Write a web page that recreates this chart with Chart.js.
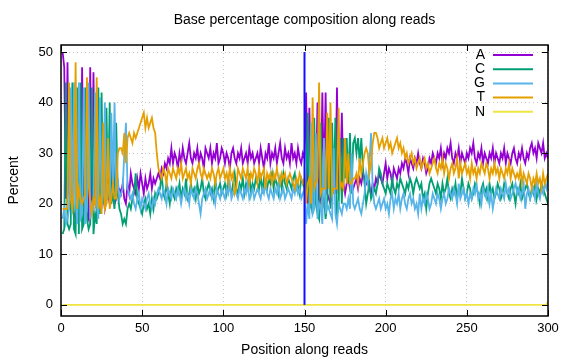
<!DOCTYPE html>
<html>
<head>
<meta charset="utf-8">
<script src="https://cdn.jsdelivr.net/npm/chart.js@4.4.1/dist/chart.umd.min.js"></script>
<style>
  html, body { margin: 0; padding: 0; background: #fff; }
</style>
</head>
<body>
<canvas id="myChart" width="576" height="360"></canvas>
<script>
// percent of each base at read positions 1..300
const baseA = [
  50, 47, 21, 48, 22, 20, 19, 18, 17, 22,
  19, 18, 47, 20, 19, 18, 17, 47, 19, 46,
  20, 19, 21, 20, 21, 22, 19, 21, 22, 20,
  21, 30, 20, 21, 23, 23, 22, 24, 21, 20,
  24, 22, 26, 24, 23, 22, 25, 23, 26, 24,
  22, 25, 23, 24, 26, 23, 25, 24, 25, 26,
  25, 27, 26, 28, 27, 29, 28, 31, 28, 30,
  29, 27, 30, 28, 31, 29, 28, 30, 32, 29,
  28, 30, 29, 31, 28, 30, 29, 27, 31, 30,
  29, 31, 28, 30, 29, 32, 28, 29, 31, 30,
  28, 30, 29, 27, 30, 31, 29, 28, 30, 29,
  31, 28, 29, 30, 28, 31, 29, 30, 28, 29,
  30, 28, 31, 29, 27, 30, 29, 32, 28, 30,
  29, 31, 28, 30, 32, 29, 28, 31, 29, 30,
  28, 32, 29, 30, 28, 31, 29, 28, 30, 29,
  42, 20, 39, 24, 20, 21, 22, 40, 19, 22,
  42, 23, 42, 22, 21, 20, 23, 24, 22, 43,
  22, 24, 38, 24, 22, 24, 25, 23, 24, 23,
  24, 25, 23, 25, 24, 26, 25, 24, 25, 23,
  22, 24, 23, 25, 24, 26, 25, 24, 26, 28,
  25, 27, 26, 24, 27, 26, 25, 27, 26, 28,
  27, 29, 28, 26, 29, 28, 27, 29, 28, 30,
  28, 27, 29, 28, 26, 27, 29, 28, 30, 29,
  28, 30, 29, 31, 28, 30, 29, 31, 30, 32,
  29, 28, 30, 29, 31, 28, 30, 29, 28, 30,
  29, 31, 30, 32, 29, 28, 30, 29, 31, 28,
  30, 29, 28, 30, 29, 31, 28, 30, 29, 28,
  30, 29, 31, 28, 30, 29, 28, 30, 31, 29,
  28, 30, 29, 31, 29, 28, 30, 29, 31, 32,
  30, 31, 29, 32, 31, 30, 32, 29, 30, 29
];

const baseC = [
  14, 15, 44, 16, 15, 16, 44, 15, 14, 43,
  14, 44, 15, 16, 43, 17, 15, 16, 43, 14,
  18, 16, 43, 18, 42, 20, 22, 39, 21, 40,
  20, 22, 19, 36, 22, 19, 18, 16, 17, 16,
  19, 20, 19, 21, 22, 26, 21, 20, 19, 18,
  20, 21, 19, 20, 18, 21, 19, 22, 21, 22,
  23, 26, 22, 21, 24, 22, 20, 23, 22, 21,
  23, 22, 24, 21, 23, 22, 25, 21, 22, 24,
  22, 23, 21, 24, 22, 23, 25, 22, 21, 23,
  24, 22, 23, 21, 25, 22, 23, 24, 22, 23,
  24, 22, 25, 23, 22, 24, 26, 23, 22, 24,
  23, 25, 22, 24, 23, 26, 22, 24, 23, 25,
  24, 23, 26, 22, 25, 24, 23, 25, 24, 26,
  23, 25, 24, 22, 25, 23, 26, 24, 23, 25,
  24, 23, 25, 26, 23, 24, 22, 25, 24, 23,
  22, 38, 19, 20, 18, 37, 20, 18, 17, 36,
  19, 21, 17, 20, 37, 19, 36, 22, 37, 18,
  19, 33, 20, 33, 25, 33, 24, 34, 22, 32,
  33, 30, 33, 28, 33, 27, 24, 20, 22, 24,
  21, 22, 23, 22, 24, 27, 26, 24, 23, 22,
  24, 23, 22, 25, 23, 22, 24, 23, 25, 24,
  23, 22, 24, 23, 25, 24, 22, 24, 25, 24,
  23, 24, 21, 22, 19, 22, 24, 25, 24, 23,
  22, 24, 23, 21, 24, 22, 23, 25, 22, 21,
  23, 22, 24, 21, 23, 22, 25, 23, 21, 22,
  24, 23, 21, 22, 24, 23, 22, 20, 23, 24,
  22, 23, 21, 24, 22, 23, 21, 22, 24, 23,
  21, 22, 24, 23, 22, 21, 23, 24, 22, 20,
  23, 22, 24, 21, 22, 23, 24, 22, 21, 23,
  22, 24, 21, 23, 22, 24, 23, 22, 21, 20
];

const baseG = [
  17, 19, 16, 17, 19, 43, 18, 44, 21, 16,
  44, 17, 18, 43, 16, 20, 44, 17, 20, 19,
  42, 20, 17, 41, 19, 22, 40, 20, 24, 21,
  38, 24, 40, 22, 25, 21, 22, 23, 30, 36,
  23, 22, 21, 22, 20, 19, 21, 22, 19, 21,
  20, 19, 21, 22, 20, 19, 21, 20, 22, 23,
  22, 21, 23, 22, 20, 23, 22, 21, 23, 22,
  21, 23, 22, 20, 22, 23, 21, 22, 20, 23,
  22, 21, 23, 22, 20, 18, 21, 22, 23, 21,
  22, 23, 21, 22, 20, 23, 22, 21, 23, 22,
  21, 23, 22, 24, 21, 22, 23, 22, 21, 23,
  22, 21, 23, 22, 24, 21, 22, 23, 21, 22,
  23, 22, 21, 23, 22, 24, 22, 21, 23, 22,
  21, 23, 22, 24, 21, 22, 23, 21, 22, 23,
  22, 21, 23, 22, 24, 22, 23, 21, 22, 23,
  16, 20, 17, 36, 18, 19, 34, 17, 20, 19,
  16, 33, 18, 20, 19, 18, 17, 31, 18, 16,
  20, 19, 18, 20, 20, 19, 21, 19, 30, 20,
  19, 20, 21, 19, 18, 20, 22, 26, 24, 28,
  34, 23, 20, 19, 20, 21, 19, 20, 21, 19,
  20, 18, 21, 22, 19, 21, 20, 22, 19, 21,
  22, 20, 19, 21, 22, 20, 21, 19, 20, 18,
  22, 19, 21, 20, 22, 21, 19, 20, 22, 21,
  20, 22, 21, 19, 21, 22, 20, 21, 23, 22,
  21, 23, 22, 20, 24, 21, 22, 23, 21, 22,
  20, 22, 21, 23, 22, 24, 21, 22, 20, 23,
  22, 21, 23, 20, 22, 19, 21, 23, 22, 21,
  23, 22, 21, 24, 22, 23, 21, 22, 23, 24,
  22, 23, 21, 22, 24, 19, 22, 23, 21, 22,
  23, 21, 24, 22, 21, 23, 22, 24, 23, 25
];

const baseT = [
  19, 19, 19, 19, 44, 21, 19, 23, 48, 19,
  23, 21, 20, 21, 22, 45, 24, 20, 18, 21,
  20, 45, 19, 21, 18, 36, 19, 20, 33, 19,
  21, 24, 21, 21, 30, 31, 31, 30, 34, 28,
  33, 34, 33, 32, 34, 33, 34, 35, 36, 37,
  38, 35, 37, 35, 36, 37, 35, 34, 30, 27,
  26, 25, 27, 26, 24, 27, 26, 25, 27, 26,
  25, 27, 26, 28, 25, 26, 27, 25, 26, 24,
  27, 26, 25, 27, 28, 26, 25, 27, 26, 25,
  26, 25, 27, 26, 24, 26, 27, 25, 26, 27,
  25, 26, 24, 27, 25, 26, 22, 23, 27, 26,
  25, 27, 26, 25, 27, 24, 26, 25, 27, 26,
  24, 27, 25, 26, 27, 23, 26, 25, 26, 24,
  26, 25, 27, 25, 24, 26, 25, 26, 24, 25,
  26, 25, 24, 23, 25, 24, 26, 25, 24, 25,
  20, 24, 25, 20, 41, 23, 24, 25, 44, 22,
  23, 23, 23, 38, 23, 40, 22, 23, 23, 23,
  39, 23, 24, 23, 33, 24, 30, 24, 24, 25,
  25, 26, 24, 29, 26, 28, 30, 31, 30, 26,
  28, 32, 34, 34, 33, 31, 32, 33, 31, 32,
  33, 31, 32, 30, 31, 32, 33, 31, 32, 30,
  31, 29, 30, 28, 29, 30, 28, 29, 27, 28,
  29, 27, 28, 29, 27, 28, 26, 27, 28, 29,
  27, 26, 28, 27, 29, 26, 28, 27, 25, 27,
  28, 26, 27, 29, 25, 28, 26, 27, 28, 26,
  27, 25, 28, 26, 27, 25, 27, 26, 28, 27,
  26, 28, 27, 25, 27, 26, 28, 26, 27, 25,
  27, 26, 25, 27, 26, 28, 25, 27, 26, 25,
  26, 25, 27, 24, 26, 25, 24, 26, 25, 23,
  25, 24, 26, 24, 25, 23, 26, 24, 25, 26
];

const baseN = [
  0, 0, 0, 0, 0, 0, 0, 0, 0, 0, 0, 0, 0, 0, 0, 0, 0, 0, 0, 0, 0, 0, 0, 0, 0, 0, 0, 0, 0, 0,
  0, 0, 0, 0, 0, 0, 0, 0, 0, 0, 0, 0, 0, 0, 0, 0, 0, 0, 0, 0, 0, 0, 0, 0, 0, 0, 0, 0, 0, 0,
  0, 0, 0, 0, 0, 0, 0, 0, 0, 0, 0, 0, 0, 0, 0, 0, 0, 0, 0, 0, 0, 0, 0, 0, 0, 0, 0, 0, 0, 0,
  0, 0, 0, 0, 0, 0, 0, 0, 0, 0, 0, 0, 0, 0, 0, 0, 0, 0, 0, 0, 0, 0, 0, 0, 0, 0, 0, 0, 0, 0,
  0, 0, 0, 0, 0, 0, 0, 0, 0, 0, 0, 0, 0, 0, 0, 0, 0, 0, 0, 0, 0, 0, 0, 0, 0, 0, 0, 0, 0, 0,
  0, 0, 0, 0, 0, 0, 0, 0, 0, 0, 0, 0, 0, 0, 0, 0, 0, 0, 0, 0, 0, 0, 0, 0, 0, 0, 0, 0, 0, 0,
  0, 0, 0, 0, 0, 0, 0, 0, 0, 0, 0, 0, 0, 0, 0, 0, 0, 0, 0, 0, 0, 0, 0, 0, 0, 0, 0, 0, 0, 0,
  0, 0, 0, 0, 0, 0, 0, 0, 0, 0, 0, 0, 0, 0, 0, 0, 0, 0, 0, 0, 0, 0, 0, 0, 0, 0, 0, 0, 0, 0,
  0, 0, 0, 0, 0, 0, 0, 0, 0, 0, 0, 0, 0, 0, 0, 0, 0, 0, 0, 0, 0, 0, 0, 0, 0, 0, 0, 0, 0, 0,
  0, 0, 0, 0, 0, 0, 0, 0, 0, 0, 0, 0, 0, 0, 0, 0, 0, 0, 0, 0, 0, 0, 0, 0, 0, 0, 0, 0, 0, 0.7
];

// read 1 / read 2 boundary
const splitPos = 150;
const splitRange = [0, 50];

const xTicks = [0, 50, 100, 150, 200, 250, 300];
const yTicks = [0, 10, 20, 30, 40, 50];

const titleText = "Base percentage composition along reads";
const bases = ["A", "C", "G", "T", "N"];
const colors = ["#9400d3", "#009e73", "#56b4e9", "#e69f00", "#f0e442"];
const seriesList = [baseA, baseC, baseG, baseT, baseN];

const FONT = "'Liberation Sans', Arial, sans-serif";

const toPoints = (arr) => arr.map((v, i) => ({ x: i + 1, y: v }));

const datasets = seriesList.map((arr, i) => ({
  label: bases[i],
  data: toPoints(arr),
  borderColor: colors[i],
  borderWidth: 1.8,
  pointRadius: 0,
  tension: 0,
  order: 5 - i,
}));

datasets.push({
  label: "split",
  data: splitRange.map((v) => ({ x: splitPos, y: v })),
  borderColor: "#1010ff",
  borderWidth: 2,
  pointRadius: 0,
  order: 0,
});

// gnuplot-ish frame, mirrored ticks, title and key
const framePlugin = {
  id: "frame",
  afterDatasetsDraw(chart) {
    const { ctx, chartArea: a, scales } = chart;
    ctx.save();
    ctx.strokeStyle = "#000";
    ctx.lineWidth = 1;
    ctx.beginPath();
    xTicks.forEach((v) => {
      const px = Math.round(scales.x.getPixelForValue(v)) + 0.5;
      ctx.moveTo(px, a.bottom);
      ctx.lineTo(px, a.bottom - 6);
      ctx.moveTo(px, a.top);
      ctx.lineTo(px, a.top + 6);
    });
    yTicks.forEach((v) => {
      const py = Math.round(scales.y.getPixelForValue(v)) + 0.5;
      ctx.moveTo(a.left, py);
      ctx.lineTo(a.left + 6, py);
      ctx.moveTo(a.right, py);
      ctx.lineTo(a.right - 6, py);
    });
    ctx.stroke();
    ctx.lineWidth = 1.5;
    ctx.strokeRect(a.left, a.top, a.right - a.left, a.bottom - a.top);

    ctx.fillStyle = "#000";
    ctx.font = "14px " + FONT;
    ctx.textAlign = "center";
    ctx.textBaseline = "middle";
    ctx.fillText(titleText, (a.left + a.right) / 2, 20);

    ctx.textAlign = "right";
    bases.forEach((b, i) => {
      const y = a.top + 10 + i * 14.2;
      ctx.fillStyle = "#000";
      ctx.fillText(b, a.right - 63, y);
      ctx.strokeStyle = colors[i];
      ctx.lineWidth = 2;
      ctx.beginPath();
      ctx.moveTo(a.right - 55, y);
      ctx.lineTo(a.right - 15, y);
      ctx.stroke();
    });
    ctx.restore();
  },
};

const config = {
  type: "line",
  data: { datasets: datasets },
  options: {
    responsive: false,
    animation: false,
    layout: { padding: { left: 0, right: 28, top: 45, bottom: 0 } },
    plugins: {
      legend: { display: false },
      tooltip: { enabled: false },
      title: { display: false },
    },
    scales: {
      x: {
        type: "linear",
        min: 0,
        max: 300,
        afterBuildTicks: (s) => { s.ticks = xTicks.map((v) => ({ value: v })); },
        afterFit: (s) => { s.height = 44; },
        ticks: { color: "#000", font: { family: FONT, size: 13 }, padding: 5, maxRotation: 0 },
        grid: { color: "#c8c8c8", drawTicks: false },
        border: { display: false, dash: [1, 3] },
        title: {
          display: true,
          text: "Position along reads",
          color: "#000",
          font: { family: FONT, size: 14 },
          padding: { top: 0, bottom: 1 },
        },
      },
      y: {
        min: -2.2,
        max: 51.4,
        afterBuildTicks: (s) => { s.ticks = yTicks.map((v) => ({ value: v })); },
        afterFit: (s) => { s.width = 61; },
        ticks: { color: "#000", font: { family: FONT, size: 13 }, padding: 8 },
        grid: { color: "#c8c8c8", drawTicks: false },
        border: { display: false, dash: [1, 3] },
        title: {
          display: true,
          text: "Percent",
          color: "#000",
          font: { family: FONT, size: 14 },
          padding: { top: 6, bottom: 0 },
        },
      },
    },
  },
  plugins: [framePlugin],
};

const myChart = new Chart(document.getElementById("myChart"), config);
</script>
</body>
</html>
